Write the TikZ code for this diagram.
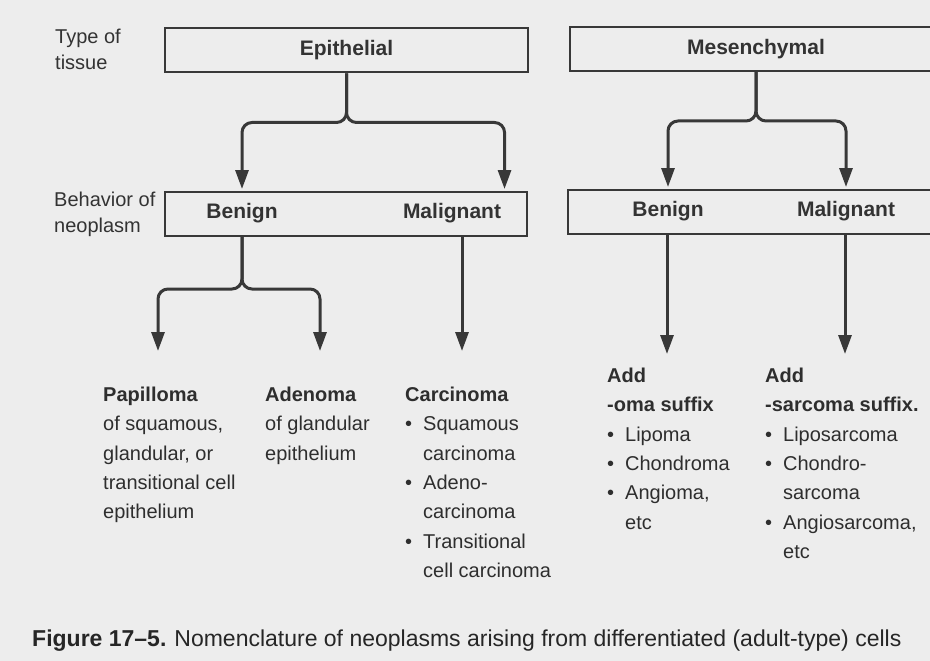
\documentclass[tikz,border=0pt]{standalone}
\usepackage{fontspec}
\setmainfont{Liberation Sans}
\usetikzlibrary{arrows.meta}
\newcommand{\itm}{\makebox[18pt][l]{\textbullet}}
\newcommand{\ind}{\hspace*{18pt}}

\begin{document}
\begin{tikzpicture}[x=1pt,y=-1pt,
    ink/.style={draw=black!78,line width=2pt},
    box/.style={ink,minimum height=44pt,inner sep=0pt},
    lab/.style={font=\bfseries\fontsize{21}{24}\selectfont,text=black!80},
    side/.style={font=\fontsize{20}{25.5}\selectfont,text=black!80,align=left,anchor=north west,inner sep=0pt},
    blk/.style={font=\fontsize{20}{29.3}\selectfont,text=black!82,align=left,anchor=north west,inner sep=0pt},
    arr/.style={draw=black!78,line width=3pt,rounded corners=10pt,shorten >=2pt,-{Triangle[length=19pt,width=13pt]}}]

    \fill[black!7] (0,0) rectangle (930,661);
    \useasboundingbox (0,0) rectangle (930,661);

    % type of tissue
    \node[side] (tis) at (55,29) {Type of\\tissue};
    \node[box,lab,minimum width=363pt] (epi) at (346.5,50.5) {Epithelial};
    \node[box,lab,minimum width=372pt] (mes) at (756,49) {Mesenchymal};

    % behavior of neoplasm
    \node[side] (beh) at (54,192) {Behavior of\\neoplasm};
    \node[box,minimum width=362pt] (ebox) at (346,214) {};
    \node[box,minimum width=374pt] (mbox) at (755,212) {};
    \node[lab] (eben) at (242,213) {Benign};
    \node[lab] (emal) at (452,213) {Malignant};
    \node[lab] (mben) at (668,211) {Benign};
    \node[lab] (mmal) at (846,211) {Malignant};

    \draw[arr] (epi.south) -- ++(0,49) -| (eben |- ebox.north);
    \draw[arr] (epi.south) -- ++(0,49) -| (emal.east |- ebox.north);
    \draw[arr] (mes.south) -- ++(0,49) -| (mben |- mbox.north);
    \draw[arr] (mes.south) -- ++(0,49) -| (mmal |- mbox.north);

    % names of the tumours
    \coordinate (papin) at (158,353);
    \coordinate (adein) at (320,353);
    \coordinate (carin) at (462,353);
    \coordinate (omain) at (667,356);
    \coordinate (sarin) at (845,356);

    \draw[arr] (eben |- ebox.south) -- ++(0,52) -| (papin);
    \draw[arr] (eben |- ebox.south) -- ++(0,52) -| (adein);
    \draw[arr] (carin |- ebox.south) -- (carin);
    \draw[arr] (omain |- mbox.south) -- (omain);
    \draw[arr] (sarin |- mbox.south) -- (sarin);

    \node[blk] (pap) at (103,387) {\textbf{Papilloma}\\of squamous,\\glandular, or\\transitional cell\\epithelium};
    \node[blk] (ade) at (265,387) {\textbf{Adenoma}\\of glandular\\epithelium};
    \node[blk] (car) at (405,387) {\textbf{Carcinoma}\\\itm Squamous\\\ind carcinoma\\\itm Adeno-\\\ind carcinoma\\\itm Transitional\\\ind cell carcinoma};
    \node[blk] (oma) at (607,368) {\textbf{Add}\\\textbf{-oma suffix}\\\itm Lipoma\\\itm Chondroma\\\itm Angioma,\\\ind etc};
    \node[blk] (sar) at (765,368) {\textbf{Add}\\\textbf{-sarcoma suffix.}\\\itm Liposarcoma\\\itm Chondro-\\\ind sarcoma\\\itm Angiosarcoma,\\\ind etc};

    % caption
    \node[anchor=base west,inner sep=0pt,text=black!85,font=\fontsize{23}{27}\selectfont] (cap) at (32,646) {\textbf{Figure 17--5.}\hspace{8pt}Nomenclature of neoplasms arising from differentiated (adult-type) cells};
\end{tikzpicture}
\end{document}
